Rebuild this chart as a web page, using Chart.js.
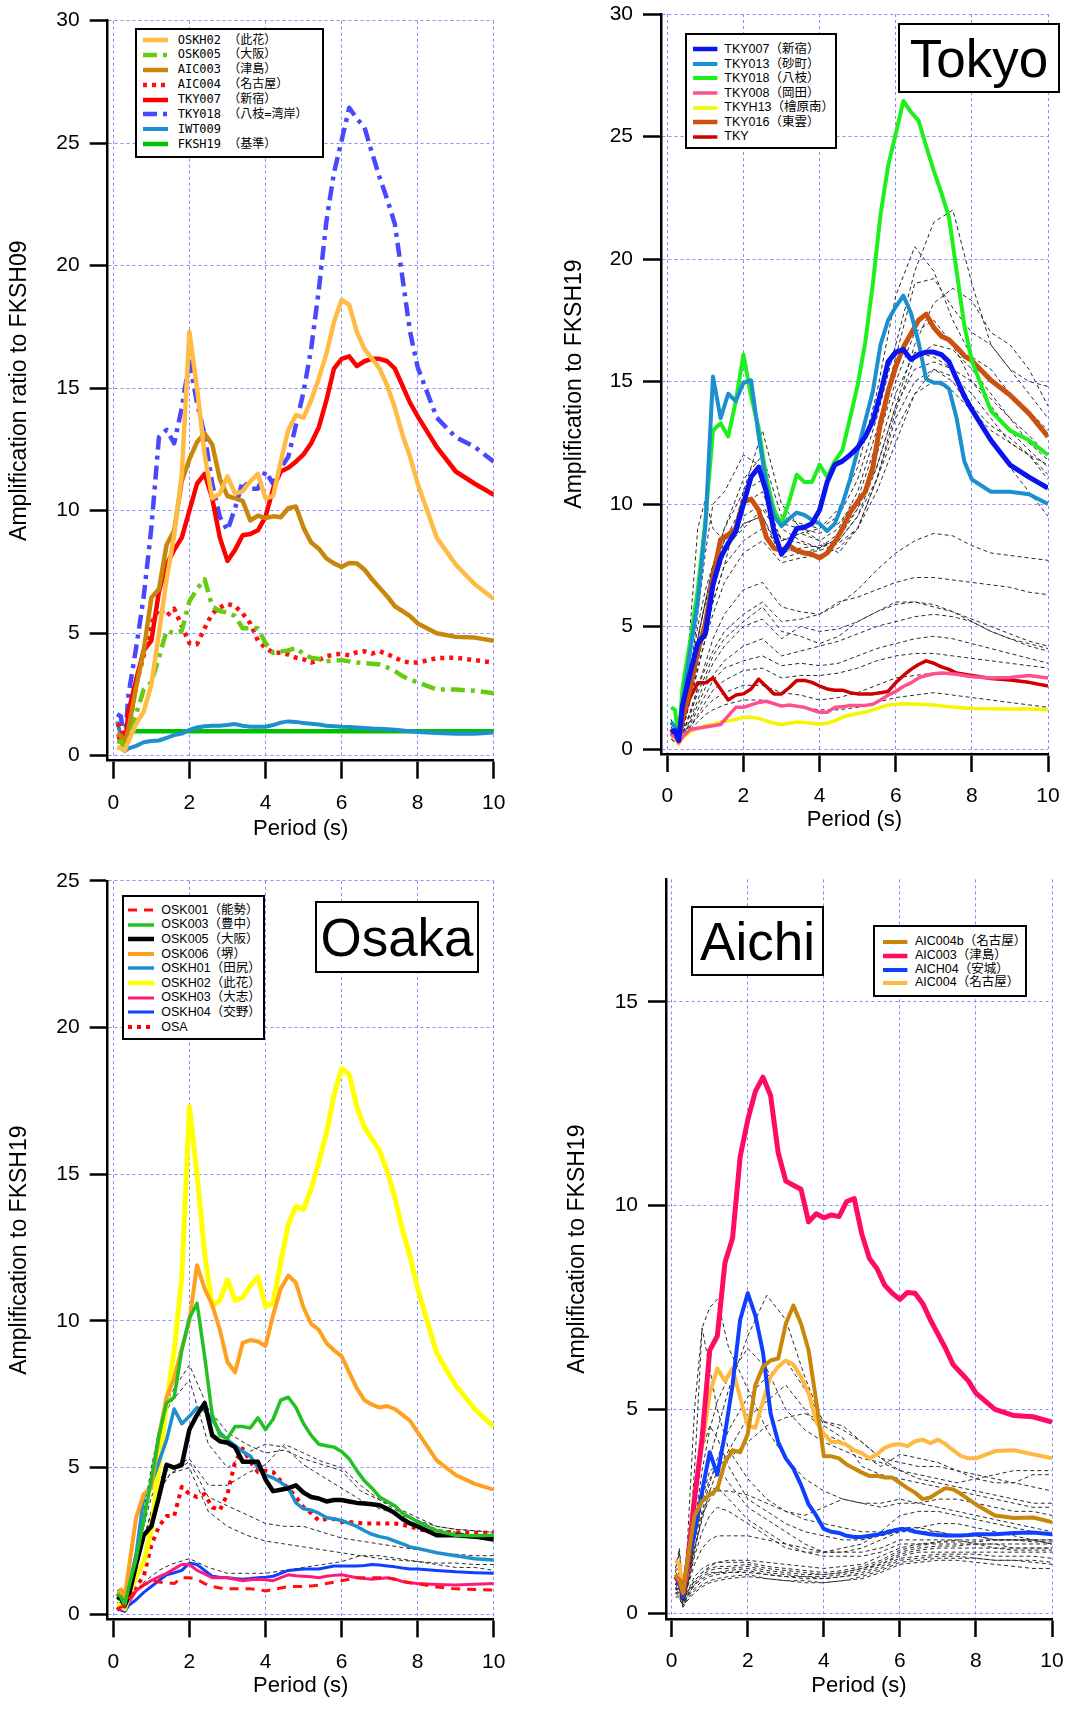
<!DOCTYPE html>
<html>
<head>
<meta charset="utf-8">
<script src="https://cdn.jsdelivr.net/npm/chart.js@4.4.1/dist/chart.umd.min.js"></script>
<style>
  body { margin: 0; background: #fff; width: 1065px; height: 1709px; position: relative; overflow: hidden; }
  canvas { position: absolute; }
  .legend { position: absolute; border: 2px solid #000; background: #fff; box-sizing: border-box; }
  .legend .row { position: absolute; white-space: nowrap; line-height: 1; }
  .legend svg { position: absolute; }
  .tag { position: absolute; border: 2px solid #000; background: #fff; box-sizing: border-box;
         font: 53px "Liberation Sans", Arial, sans-serif; display: flex; align-items: center; justify-content: center; }
</style>
</head>
<body>
<script>
// sampling periods (s)
const periods = [0.1, 0.2, 0.3, 0.4, 0.6, 0.8, 1.0, 1.2, 1.4, 1.6, 1.8, 2.0, 2.2, 2.4, 2.6, 2.8, 3.0, 3.2, 3.4, 3.6,
  3.8, 4.0, 4.2, 4.4, 4.6, 4.8, 5.0, 5.2, 5.4, 5.6, 5.8, 6.0, 6.2, 6.4, 6.6, 6.8, 7.0, 7.2, 7.4, 7.6,
  7.8, 8.0, 8.5, 9.0, 9.5, 10.0];
const periodsCoarse = [0.1, 0.2, 0.3, 0.4, 0.6, 0.8, 1.0, 1.2, 1.5, 2.0, 2.5, 3.0, 3.5, 4.0, 4.5, 5.0, 5.5, 6.0, 6.5, 7.0,
  7.5, 8.0, 8.5, 9.0, 9.5, 10.0];
const xTickValues = [0, 2, 4, 6, 8, 10];

// stations
const oskh02 = [0.35, 0.3, 0.2, 0.6, 1.3, 1.8, 2.9, 5.0, 7.2, 9.0, 11.5, 17.3, 15.0, 12.3, 10.5, 10.7, 11.4, 10.7, 10.8, 11.2,
  11.5, 10.5, 10.6, 12.0, 13.3, 13.9, 13.8, 14.5, 15.4, 16.4, 17.7, 18.6, 18.4, 17.3, 16.6, 16.2, 15.8, 15.1, 14.2, 13.1,
  12.2, 11.1, 8.9, 7.8, 7.0, 6.4];
const osk005 = [0.6, 0.55, 0.3, 0.6, 1.7, 2.7, 3.0, 4.0, 5.1, 5.0, 5.1, 6.3, 6.8, 7.2, 6.1, 5.9, 5.85, 5.7, 5.2, 5.2,
  5.2, 4.6, 4.2, 4.25, 4.3, 4.4, 4.15, 4.0, 3.95, 3.85, 3.9, 3.9, 3.85, 3.8, 3.78, 3.75, 3.72, 3.6, 3.45, 3.25,
  3.1, 3.0, 2.7, 2.7, 2.65, 2.55];
const aic003 = [0.9, 0.8, 0.5, 1.1, 2.8, 4.3, 6.45, 6.8, 8.6, 9.2, 11.2, 12.1, 12.8, 13.15, 12.7, 11.3, 10.6, 10.5, 10.4, 9.6,
  9.8, 9.7, 9.77, 9.73, 10.1, 10.17, 9.3, 8.7, 8.45, 8.05, 7.85, 7.7, 7.87, 7.85, 7.6, 7.2, 6.85, 6.5, 6.1, 5.9,
  5.7, 5.4, 5.0, 4.85, 4.82, 4.69];
const aic004 = [1.3, 1.2, 0.55, 0.95, 2.9, 4.1, 5.4, 6.0, 5.7, 6.0, 5.3, 4.6, 4.55, 5.2, 5.8, 6.05, 6.2, 6.1, 5.8, 5.4,
  4.7, 4.4, 4.2, 4.2, 4.13, 4.0, 3.93, 3.8, 3.9, 4.06, 4.13, 4.15, 4.1, 4.22, 4.26, 4.17, 4.26, 4.15, 4.0, 3.86,
  3.8, 3.8, 3.98, 4.0, 3.9, 3.8];
const tky007 = [0.7, 0.75, 0.35, 1.8, 3.1, 4.3, 4.7, 6.7, 7.8, 8.4, 8.9, 10.0, 11.1, 11.5, 10.5, 8.9, 7.95, 8.4, 9.0, 9.05,
  9.2, 9.75, 10.9, 11.6, 11.75, 12.0, 12.3, 12.75, 13.4, 14.5, 15.8, 16.2, 16.3, 15.9, 16.1, 16.2, 16.2, 16.1, 15.8, 15.1,
  14.4, 13.85, 12.6, 11.6, 11.1, 10.65];
const tky018 = [1.7, 1.6, 0.45, 2.5, 4.4, 6.5, 9.3, 13.0, 13.3, 12.75, 14.2, 16.1, 14.4, 13.1, 11.1, 9.75, 9.2, 10.1, 11.2, 10.9,
  10.9, 11.6, 11.1, 11.75, 12.2, 13.5, 14.85, 16.6, 19.0, 21.8, 23.8, 25.1, 26.45, 26.0, 25.65, 24.6, 23.6, 22.7, 21.7, 19.5,
  17.3, 15.85, 13.8, 13.0, 12.6, 12.0];
const iwt009 = [1.4, 0.8, 0.18, 0.3, 0.4, 0.55, 0.6, 0.62, 0.73, 0.84, 0.9, 1.05, 1.15, 1.2, 1.22, 1.22, 1.25, 1.29, 1.22, 1.18,
  1.18, 1.18, 1.25, 1.35, 1.4, 1.38, 1.33, 1.3, 1.27, 1.22, 1.2, 1.18, 1.17, 1.15, 1.13, 1.11, 1.1, 1.08, 1.06, 1.03,
  1.0, 0.97, 0.93, 0.9, 0.9, 0.95];
const fkshPeriods = [0.55, 10.0];
const fksh19 = [1.0, 1.0];

const tky013 = [1.1, 0.9, 0.5, 1.8, 4.0, 6.0, 9.1, 15.2, 13.5, 14.5, 14.2, 14.95, 15.05, 12.8, 10.8, 9.5, 9.1, 9.4, 9.65, 9.55,
  9.35, 9.2, 8.9, 9.2, 10.0, 11.0, 12.2, 13.4, 14.6, 16.5, 17.5, 18.05, 18.5, 17.8, 16.6, 15.1, 14.95, 14.95, 14.7, 13.5,
  11.75, 11.0, 10.5, 10.5, 10.4, 10.0];
const tky016 = [0.8, 0.6, 0.35, 1.2, 2.45, 4.0, 5.1, 7.0, 8.55, 8.75, 9.0, 10.1, 10.2, 9.75, 8.65, 8.2, 8.1, 8.3, 8.1, 8.0,
  7.95, 7.8, 8.0, 8.45, 9.0, 9.65, 10.1, 10.5, 11.5, 13.3, 14.6, 15.6, 16.4, 16.95, 17.5, 17.75, 17.2, 16.85, 16.7, 16.4,
  16.05, 15.85, 15.05, 14.45, 13.7, 12.75];
const tky = [0.55, 0.7, 0.35, 1.2, 2.1, 2.7, 2.7, 2.9, 2.45, 2.0, 2.2, 2.25, 2.45, 2.85, 2.55, 2.25, 2.25, 2.5, 2.8, 2.8,
  2.72, 2.57, 2.45, 2.4, 2.4, 2.3, 2.25, 2.25, 2.25, 2.3, 2.35, 2.7, 3.0, 3.25, 3.45, 3.6, 3.5, 3.35, 3.25, 3.1,
  3.05, 3.0, 2.88, 2.82, 2.72, 2.57];
const tky008 = [0.6, 0.5, 0.25, 0.5, 0.8, 0.85, 0.9, 0.95, 1.0, 1.35, 1.7, 1.7, 1.8, 1.9, 1.95, 1.85, 1.75, 1.8, 1.75, 1.7,
  1.6, 1.5, 1.5, 1.7, 1.72, 1.78, 1.78, 1.78, 1.83, 2.0, 2.2, 2.35, 2.55, 2.7, 2.9, 3.0, 3.07, 3.1, 3.08, 3.05,
  3.0, 2.95, 2.9, 2.92, 3.0, 2.9];
const tkyh13 = [0.55, 0.45, 0.2, 0.45, 0.7, 0.85, 0.95, 1.0, 1.1, 1.15, 1.2, 1.3, 1.3, 1.25, 1.15, 1.05, 1.0, 1.05, 1.1, 1.08,
  1.05, 1.02, 1.05, 1.15, 1.3, 1.38, 1.45, 1.5, 1.6, 1.7, 1.8, 1.82, 1.85, 1.84, 1.83, 1.82, 1.8, 1.76, 1.72, 1.7,
  1.67, 1.65, 1.64, 1.63, 1.63, 1.6];

const osk001 = [0.2, 0.25, 0.3, 0.5, 0.85, 1.0, 1.15, 1.1, 1.08, 1.05, 1.25, 1.25, 1.2, 1.05, 0.95, 0.9, 0.87, 0.87, 0.87, 0.87,
  0.85, 0.8, 0.85, 0.9, 0.95, 0.95, 0.95, 0.97, 1.0, 1.05, 1.1, 1.15, 1.2, 1.25, 1.25, 1.25, 1.25, 1.25, 1.2, 1.12,
  1.08, 1.05, 0.93, 0.87, 0.85, 0.83];
const osk003 = [0.7, 0.6, 0.3, 0.9, 1.9, 3.2, 4.6, 6.1, 7.2, 7.4, 9.0, 10.1, 10.6, 8.8, 6.8, 6.1, 6.0, 6.4, 6.4, 6.35,
  6.7, 6.3, 6.65, 7.3, 7.4, 7.05, 6.5, 6.1, 5.8, 5.75, 5.7, 5.55, 5.3, 4.9, 4.55, 4.3, 4.0, 3.85, 3.7, 3.45,
  3.3, 3.15, 2.85, 2.7, 2.68, 2.7];
const osk006 = [0.6, 0.85, 0.6, 1.5, 3.3, 4.1, 4.3, 6.1, 7.4, 8.05, 9.07, 10.0, 11.9, 11.1, 10.55, 9.7, 8.6, 8.25, 9.25, 9.35,
  9.3, 9.15, 10.2, 11.1, 11.55, 11.3, 10.45, 9.9, 9.7, 9.25, 9.0, 8.8, 8.25, 7.7, 7.3, 7.15, 7.05, 7.1, 7.0, 6.8,
  6.6, 6.2, 5.25, 4.75, 4.45, 4.25];
const oskh01 = [0.6, 0.5, 0.25, 0.9, 2.05, 4.0, 4.45, 5.2, 5.95, 7.0, 6.5, 6.75, 7.05, 6.95, 6.65, 6.2, 5.95, 5.75, 5.55, 5.4,
  5.0, 4.75, 4.65, 4.5, 4.3, 3.8, 3.6, 3.55, 3.45, 3.3, 3.25, 3.2, 3.1, 3.0, 2.85, 2.73, 2.65, 2.6, 2.5, 2.4,
  2.3, 2.25, 2.1, 2.0, 1.9, 1.85];
const oskh03 = [0.2, 0.18, 0.15, 0.4, 0.8, 1.0, 1.15, 1.28, 1.4, 1.55, 1.7, 1.7, 1.5, 1.38, 1.25, 1.25, 1.25, 1.2, 1.15, 1.18,
  1.2, 1.18, 1.15, 1.25, 1.35, 1.32, 1.3, 1.28, 1.25, 1.3, 1.33, 1.35, 1.3, 1.25, 1.22, 1.2, 1.22, 1.25, 1.2, 1.12,
  1.08, 1.05, 1.02, 1.0, 1.03, 1.05];
const oskh04 = [0.2, 0.15, 0.1, 0.3, 0.5, 0.75, 0.95, 1.15, 1.35, 1.42, 1.5, 1.75, 1.7, 1.5, 1.3, 1.27, 1.25, 1.22, 1.2, 1.22,
  1.25, 1.27, 1.3, 1.4, 1.5, 1.52, 1.55, 1.55, 1.55, 1.6, 1.65, 1.65, 1.65, 1.65, 1.67, 1.7, 1.68, 1.65, 1.62, 1.58,
  1.55, 1.55, 1.5, 1.45, 1.42, 1.4];
const osa = [0.15, 0.25, 0.3, 0.5, 0.95, 1.3, 2.35, 3.0, 3.35, 3.35, 4.35, 4.1, 4.0, 4.1, 3.65, 3.55, 4.1, 5.2, 5.65, 5.2,
  4.85, 4.9, 4.85, 4.55, 4.3, 4.0, 3.65, 3.45, 3.2, 3.25, 3.25, 3.15, 3.15, 3.12, 3.1, 3.1, 3.1, 3.1, 3.1, 3.05,
  3.0, 2.9, 2.8, 2.8, 2.77, 2.8];

const aic004b = [0.95, 0.8, 0.5, 1.2, 2.4, 2.75, 2.9, 3.05, 3.7, 4.0, 3.95, 4.4, 5.6, 6.05, 6.2, 6.25, 7.1, 7.55, 7.1, 6.45,
  5.2, 3.85, 3.85, 3.8, 3.65, 3.55, 3.45, 3.37, 3.37, 3.33, 3.33, 3.2, 3.07, 2.96, 2.8, 2.84, 2.96, 3.07, 3.04, 2.93,
  2.8, 2.67, 2.4, 2.34, 2.35, 2.24];
const aich04 = [0.9, 0.7, 0.4, 1.2, 1.95, 3.0, 3.95, 3.4, 4.4, 5.6, 7.2, 7.85, 7.3, 6.4, 4.9, 4.2, 3.8, 3.55, 3.15, 2.67,
  2.4, 2.07, 2.0, 1.97, 1.9, 1.87, 1.87, 1.9, 1.93, 1.97, 2.02, 2.06, 2.06, 2.0, 1.97, 1.94, 1.92, 1.91, 1.91, 1.91,
  1.92, 1.94, 1.94, 1.97, 1.98, 1.94];

// other stations (thin dashed), on periodsCoarse
const tokyoOthers = [
  [1.2, 0.9, 0.5, 1.2, 3, 5, 6.5, 7.5, 8.5, 9.5, 10, 8.5, 8.8, 9, 9.5, 11, 13.5, 16.5, 19.5, 21.5, 22, 19, 16.5, 15.5, 14.5, 13.5],
  [1, 0.8, 0.4, 1, 2.8, 4.5, 6, 7.5, 9, 11, 12, 9.5, 9.2, 9, 9.8, 11.5, 14.5, 18.5, 20.5, 19.5, 17.5, 16, 15.5, 14.5, 13.8, 13],
  [0.9, 0.7, 0.4, 1, 2.5, 4, 5.5, 7, 8.5, 10, 10.5, 8.5, 8.8, 8.5, 9, 10.5, 13, 16, 19, 19.2, 18, 17, 16.5, 15.5, 15, 14.8],
  [0.8, 0.6, 0.3, 0.8, 2.2, 3.8, 5.2, 6.5, 8, 9.2, 9.5, 8, 8.2, 8.3, 8.5, 9.5, 11.5, 14, 16.5, 18.2, 18.8, 18.3, 17, 16.5, 15.5, 14],
  [0.8, 0.7, 0.4, 0.9, 2.5, 4.5, 6, 7, 8.2, 9, 9.8, 8.6, 8.4, 8.2, 8.6, 9.8, 12, 14.5, 16.2, 16, 15.5, 15, 14.3, 13.5, 12.8, 12],
  [1, 0.8, 0.5, 1, 2.6, 4.5, 6, 7.5, 9, 10.5, 11, 9.2, 9, 8.8, 9.2, 10.2, 12.5, 15, 17, 17.5, 16.5, 15, 14, 13, 12.2, 11.5],
  [0.9, 0.6, 0.4, 0.8, 2, 3.5, 5, 6, 7.5, 8.5, 9, 8.2, 8, 8.1, 8.4, 9, 11, 13.5, 15, 15.5, 15.2, 14.5, 13.5, 12.5, 12, 11],
  [1.1, 0.8, 0.5, 1.1, 3, 5.5, 8, 10, 10.5, 12, 11.5, 9, 8.5, 8.2, 8.8, 9.8, 11.5, 14, 15.5, 15.8, 15.5, 14, 13.2, 12.7, 12, 11.6],
  [0.7, 0.5, 0.3, 0.7, 2, 3.2, 4.5, 5.5, 6.8, 8, 8.5, 7.6, 7.8, 7.9, 8.2, 9, 10.5, 12.5, 14.5, 15.5, 15, 13.8, 12.5, 11.5, 10.5, 9.5],
  [0.6, 0.5, 0.3, 0.6, 1.5, 2.5, 3.5, 4.5, 5.5, 6.5, 6.8, 5.8, 5.6, 5.5, 5.9, 6.5, 7.3, 8, 8.5, 8.8, 8.7, 8.3, 8, 7.9, 7.8, 7.7],
  [0.6, 0.5, 0.3, 0.6, 1.5, 2.5, 3.3, 4, 4.8, 5.5, 6, 5.2, 5.3, 5.5, 6, 6.2, 6.5, 6.8, 7, 7, 6.9, 6.8, 6.7, 6.6, 6.4, 6.3],
  [0.5, 0.4, 0.3, 0.5, 1.2, 2, 2.8, 3.5, 4.2, 5, 5.3, 4.5, 5, 4.8, 4.9, 5.2, 5.6, 6, 6, 5.8, 5.6, 5.3, 5, 4.7, 4.4, 4.2],
  [0.5, 0.4, 0.2, 0.5, 1.1, 1.8, 2.5, 3, 3.6, 4.2, 4.5, 3.8, 4, 4.2, 4.4, 4.7, 5, 5.2, 5.4, 5.5, 5.4, 5.2, 4.8, 4.5, 4.2, 4],
  [0.5, 0.4, 0.2, 0.5, 1, 1.6, 2.2, 2.8, 3.3, 3.6, 3.8, 3.4, 3.5, 3.4, 3.5, 3.8, 4.1, 4.3, 4.5, 4.6, 4.5, 4.3, 4.1, 3.9, 3.7, 3.5],
  [0.4, 0.3, 0.2, 0.4, 0.9, 1.4, 1.9, 2.4, 2.8, 3.2, 3.3, 2.9, 3, 3, 3.1, 3.3, 3.6, 3.8, 3.9, 3.9, 3.8, 3.7, 3.6, 3.5, 3.4, 3.3],
  [0.5, 0.4, 0.2, 0.4, 0.9, 1.3, 1.7, 2, 2.3, 2.6, 2.6, 2.3, 2.2, 2, 2.1, 2.3, 2.6, 2.9, 3, 3.1, 3.1, 3, 2.9, 2.8, 2.7, 2.6],
  [0.4, 0.3, 0.2, 0.4, 0.8, 1.1, 1.4, 1.6, 1.8, 2, 2, 1.8, 1.7, 1.6, 1.6, 1.7, 1.9, 2.1, 2.2, 2.3, 2.2, 2.1, 2, 1.9, 1.8, 1.7],
  [1.2, 0.9, 0.5, 1.4, 5, 9, 10.2, 9, 8.5, 9.2, 9.5, 7.8, 8, 8.2, 8.5, 9.5, 11, 13, 14.5, 15, 14.6, 13.8, 13, 12.5, 12, 11.2],
  [0.7, 0.5, 0.3, 0.7, 2, 3.3, 4.5, 6, 7.5, 10.5, 13, 10, 9, 8.5, 8, 9, 11, 13.8, 16, 16.5, 16.3, 15.5, 14.5, 13.5, 12.5, 11.8],
  [0.6, 0.4, 0.3, 0.6, 1.4, 2.3, 3, 3.8, 4.5, 5.2, 5.8, 4.8, 4.6, 4.3, 4.6, 5.2, 5.6, 5.9, 6, 5.9, 5.6, 5.2, 4.8, 4.5, 4.3, 4.1]
];
const osakaOthers = [
  [0.8, 0.9, 0.5, 1, 2, 3, 4.5, 6, 7.5, 8.5, 7, 6.2, 5.8, 5.5, 5.6, 5.3, 5.1, 4.9, 4.2, 3.9, 3.6, 3.3, 3.0, 2.9, 2.85, 2.8],
  [0.7, 0.8, 0.4, 0.9, 2.2, 3.5, 5, 6.3, 7.2, 8, 5.8, 5.0, 5.5, 5.8, 5.7, 5.1, 4.7, 4.3, 3.9, 3.6, 3.4, 3.2, 3, 2.9, 2.85, 2.8],
  [0.6, 0.6, 0.3, 0.8, 1.8, 3.0, 4, 4.6, 5, 5.3, 4.4, 4.4, 4.8, 5.1, 5.8, 5.5, 5.2, 5, 4.4, 3.9, 3.5, 3.2, 2.9, 2.8, 2.7, 2.7],
  [0.6, 0.5, 0.3, 0.7, 1.6, 2.6, 3.5, 4.2, 4.8, 5.0, 3.5, 3.0, 2.7, 2.5, 2.4, 2.3, 2.2, 2.1, 2.0, 1.9, 1.85, 1.8, 1.75, 1.75, 1.7, 1.7],
  [0.5, 0.5, 0.3, 0.7, 1.5, 2.5, 3.5, 4.2, 4.8, 5.2, 4.0, 3.7, 3.4, 3.1, 3.0, 3.0, 2.8, 2.6, 2.5, 2.4, 2.3, 2.2, 2.1, 2.05, 2.0, 2.0],
  [0.4, 0.4, 0.2, 0.4, 0.8, 1.1, 1.3, 1.5, 1.7, 1.9, 1.6, 1.4, 1.4, 1.4, 1.5, 1.6, 1.7, 1.8, 2.0, 2.0, 1.9, 1.8, 1.7, 1.6, 1.6, 1.5]
];
const aichiOthers = [
  [1.0, 1.5, 0.5, 1.0, 3.5, 7, 7.5, 7.7, 6.5, 5.5, 4.5, 3.8, 3.3, 3.0, 2.8, 2.7, 2.7, 2.8, 2.7, 2.6, 2.5, 2.4, 2.3, 2.2, 2.1, 2.0],
  [0.9, 1.2, 0.4, 0.8, 2, 3, 3.8, 4.5, 5.5, 6.8, 7.8, 7.2, 5.8, 4.6, 4.3, 3.6, 3.4, 3.3, 3.2, 3.1, 3.0, 2.9, 2.8, 2.7, 2.6, 2.6],
  [0.8, 1.0, 0.4, 0.8, 2.2, 3.5, 4.5, 5.2, 5.8, 6.5, 6.0, 5.0, 4.5, 4.2, 4.0, 3.8, 3.7, 3.5, 3.3, 3.2, 3.1, 3.0, 2.9, 2.8, 2.7, 2.7],
  [0.8, 1.0, 0.3, 0.7, 1.8, 2.5, 3.2, 3.8, 4.5, 5.3, 5.8, 6.2, 5.5, 4.7, 4.6, 4.2, 3.8, 3.7, 3.6, 3.6, 3.5, 3.4, 3.3, 3.2, 3.4, 3.4],
  [0.7, 0.9, 0.3, 0.7, 1.6, 2.3, 3.0, 3.5, 4.0, 4.8, 5.2, 5.6, 5.0, 4.4, 4.2, 3.9, 3.6, 3.9, 3.8, 3.7, 3.5, 3.3, 3.2, 3.2, 3.1, 3.0],
  [1.1, 1.6, 0.6, 1.5, 5, 7, 6, 5, 4, 3.3, 2.8, 2.5, 2.3, 2.2, 2.1, 2.0, 2.0, 2.1, 2.1, 2.0, 1.9, 1.9, 1.8, 1.8, 1.8, 1.7],
  [0.8, 1.0, 0.4, 0.9, 2.5, 4.0, 4.6, 4.3, 3.6, 2.8, 2.5, 2.2, 2.0, 1.9, 1.8, 1.8, 1.9, 2.0, 2.0, 2.0, 1.9, 1.9, 1.8, 1.8, 1.8, 1.7],
  [0.7, 0.9, 0.3, 0.7, 1.8, 2.8, 3.5, 3.6, 3.2, 2.6, 2.3, 2.0, 1.7, 1.5, 1.5, 1.5, 1.6, 1.8, 1.8, 1.8, 1.8, 1.7, 1.7, 1.6, 1.6, 1.6],
  [0.6, 0.8, 0.3, 0.6, 1.5, 2.4, 3.0, 3.1, 2.8, 2.3, 2.0, 1.7, 1.5, 1.4, 1.4, 1.4, 1.5, 1.7, 1.7, 1.7, 1.7, 1.7, 1.6, 1.6, 1.6, 1.6],
  [0.7, 0.9, 0.3, 0.6, 1.4, 2.0, 2.4, 2.6, 2.5, 2.2, 1.9, 1.6, 1.5, 1.5, 1.5, 1.6, 1.8, 2.0, 2.1, 2.2, 2.2, 2.1, 2.0, 1.9, 1.8, 1.8],
  [0.6, 0.5, 0.2, 0.4, 0.7, 0.9, 1.0, 1.0, 1.05, 1.1, 1.0, 0.95, 0.9, 0.9, 0.95, 1.05, 1.2, 1.4, 1.5, 1.5, 1.5, 1.5, 1.5, 1.5, 1.5, 1.5],
  [0.5, 0.5, 0.2, 0.4, 0.6, 0.8, 0.9, 0.95, 1.0, 1.05, 0.95, 0.9, 0.85, 0.85, 0.9, 1.0, 1.15, 1.35, 1.4, 1.45, 1.45, 1.45, 1.4, 1.4, 1.4, 1.35],
  [0.6, 0.6, 0.3, 0.5, 0.8, 1.0, 1.1, 1.15, 1.15, 1.2, 1.1, 1.05, 1.0, 0.95, 1.0, 1.1, 1.25, 1.5, 1.6, 1.65, 1.65, 1.7, 1.7, 1.7, 1.7, 1.7],
  [0.5, 0.4, 0.15, 0.35, 0.55, 0.7, 0.8, 0.85, 0.9, 0.95, 0.85, 0.8, 0.8, 0.75, 0.8, 0.9, 1.05, 1.25, 1.3, 1.35, 1.35, 1.35, 1.3, 1.3, 1.25, 1.2],
  [0.7, 0.7, 0.3, 0.5, 0.9, 1.1, 1.2, 1.25, 1.25, 1.25, 1.15, 1.1, 1.05, 1.0, 1.05, 1.15, 1.3, 1.55, 1.65, 1.75, 1.8, 1.8, 1.8, 1.8, 1.8, 1.8],
  [0.5, 0.5, 0.2, 0.4, 0.7, 0.85, 0.95, 1.0, 1.0, 1.0, 0.95, 0.9, 0.9, 0.85, 0.9, 0.95, 1.1, 1.3, 1.35, 1.4, 1.4, 1.35, 1.3, 1.3, 1.3, 1.25],
  [0.6, 0.6, 0.25, 0.45, 0.75, 0.95, 1.05, 1.1, 1.1, 1.15, 1.05, 1.0, 0.95, 0.95, 1.0, 1.1, 1.2, 1.45, 1.55, 1.6, 1.6, 1.6, 1.6, 1.55, 1.55, 1.55],
  [0.4, 0.4, 0.15, 0.3, 0.5, 0.65, 0.75, 0.8, 0.85, 0.9, 0.85, 0.8, 0.75, 0.75, 0.8, 0.85, 1.0, 1.2, 1.25, 1.3, 1.3, 1.25, 1.2, 1.15, 1.1, 1.1],
  [0.6, 0.6, 0.3, 0.5, 0.8, 1.0, 1.15, 1.25, 1.3, 1.3, 1.25, 1.2, 1.15, 1.1, 1.15, 1.2, 1.4, 1.6, 1.7, 1.75, 1.75, 1.75, 1.8, 1.8, 1.75, 1.75],
  [0.7, 0.8, 0.3, 0.6, 1.2, 1.6, 1.8, 1.9, 1.9, 1.9, 1.8, 1.7, 1.6, 1.5, 1.6, 1.7, 2.0, 2.4, 2.5, 2.5, 2.4, 2.3, 2.2, 2.1, 2.0, 1.9],
  [0.8, 0.9, 0.3, 0.7, 1.6, 2.4, 2.8, 3.0, 3.0, 2.9, 2.7, 2.5, 2.4, 2.6, 2.8, 2.7, 2.6, 2.7, 2.7, 2.8, 2.8, 2.7, 2.6, 2.5, 2.5, 2.4],
  [0.8, 0.9, 0.4, 0.8, 1.8, 2.7, 3.3, 3.6, 3.8, 4.2, 4.6, 4.8, 4.9, 4.7, 4.5, 4.2, 3.8, 3.5, 3.4, 3.3, 3.2, 3.3, 3.4, 3.5, 3.5, 3.5]
];

function points(xs, ys) {
  return ys.map((y, i) => ({ x: xs[i], y: y }));
}

function station(label, xs, ys, color, width, dash) {
  return {
    label: label, data: points(xs, ys), borderColor: color, backgroundColor: color,
    borderWidth: width, borderDash: dash || [], borderJoinStyle: 'round',
    pointRadius: 0, fill: false, tension: 0
  };
}

function others(list) {
  return list.map(ys => ({
    label: '', data: points(periodsCoarse, ys), borderColor: '#2a2a2a', borderWidth: 1,
    borderDash: [4, 3], pointRadius: 0, fill: false, tension: 0
  }));
}

const dashDot = [14, 6, 4, 6];
const dotted = [4, 5];

const panels = [
  {
    canvas: { x: 0, y: 0, w: 532, h: 860 },
    axisLeft: 107.7, x0: 113.3, x10: 493.8, yTop: 20.7, y0: 755.7, axisBottom: 760.7,
    yMax: 30, yTicks: [0, 5, 10, 15, 20, 25, 30], yTitle: 'Amplification ratio to FKSH09',
    yTitleX: 20, xTitleY: 828.5,
    datasets: [
      station('OSKH02 （此花）', periods, oskh02, '#ffbb44', 4.5),
      station('OSK005 （大阪）', periods, osk005, '#66cc11', 4.5, dashDot),
      station('AIC003 （津島）', periods, aic003, '#c8860a', 4.5),
      station('AIC004 （名古屋）', periods, aic004, '#ff1010', 4.5, dotted),
      station('TKY007 （新宿）', periods, tky007, '#ff0000', 4.5),
      station('TKY018 （八枝=湾岸）', periods, tky018, '#4848ff', 4.5, dashDot),
      station('IWT009', periods, iwt009, '#1e8fd0', 4),
      station('FKSH19 （基準）', fkshPeriods, fksh19, '#00c000', 4.5)
    ],
    legend: { x: 135, y: 28.3, w: 189, h: 129.4, row0: 40, step: 14.9, s0: 142.7, s1: 167.7, tx: 177.7,
              font: '12px "DejaVu Sans Mono", "Noto Sans CJK JP", monospace' }
  },
  {
    canvas: { x: 532, y: 0, w: 533, h: 860 },
    axisLeft: 661, x0: 667.3, x10: 1048, yTop: 14, y0: 749, axisBottom: 754,
    yMax: 30, yTicks: [0, 5, 10, 15, 20, 25, 30], yTitle: 'Amplification to FKSH19',
    yTitleX: 574.5, xTitleY: 819.8,
    datasets: [
      station('TKY007（新宿）', periods, tky007, '#0a14f0', 5),
      station('TKY013（砂町）', periods, tky013, '#1a90d0', 4),
      station('TKY018（八枝）', periods, tky018, '#1ef01e', 4),
      station('TKY008（岡田）', periods, tky008, '#ff4f8f', 3.5),
      station('TKYH13（檜原南）', periods, tkyh13, '#f5f500', 3.5),
      station('TKY016（東雲）', periods, tky016, '#cc5010', 5),
      station('TKY', periods, tky, '#cc0000', 3.5)
    ].concat(others(tokyoOthers)),
    legend: { x: 685, y: 33.3, w: 152.3, h: 115.7, row0: 49.3, step: 14.56, s0: 693.3, s1: 717.7, tx: 724.3,
              font: '12.5px "Liberation Sans", "Noto Sans CJK JP", sans-serif' },
    tag: { text: 'Tokyo', x: 898, y: 23, w: 162, h: 70 }
  },
  {
    canvas: { x: 0, y: 860, w: 532, h: 849 },
    axisLeft: 107.7, x0: 113.3, x10: 493.8, yTop: 880.8, y0: 1614.4, axisBottom: 1619.4,
    yMax: 25, yTicks: [0, 5, 10, 15, 20, 25], yTitle: 'Amplification to FKSH19',
    yTitleX: 20, xTitleY: 1686.4,
    datasets: [
      station('OSK001（能勢）', periods, osk001, '#ff1010', 3, [9, 7]),
      station('OSK003（豊中）', periods, osk003, '#22c022', 3.5),
      station('OSK005（大阪）', periods, osk005, '#000000', 4.5),
      station('OSK006（堺）', periods, osk006, '#ffa020', 4),
      station('OSKH01（田尻）', periods, oskh01, '#1e90d0', 3.5),
      station('OSKH02（此花）', periods, oskh02, '#ffff00', 5),
      station('OSKH03（大志）', periods, oskh03, '#ff1a7a', 3),
      station('OSKH04（交野）', periods, oskh04, '#1040ff', 3),
      station('OSA', periods, osa, '#ff0000', 4, dotted)
    ].concat(others(osakaOthers)),
    legend: { x: 122, y: 895, w: 142.7, h: 145, row0: 910, step: 14.6, s0: 128, s1: 154, tx: 161.3,
              font: '12.5px "Liberation Sans", "Noto Sans CJK JP", sans-serif' },
    tag: { text: 'Osaka', x: 315, y: 901, w: 164, h: 72 }
  },
  {
    canvas: { x: 532, y: 860, w: 533, h: 849 },
    axisLeft: 666, x0: 671.7, x10: 1052, yTop: 879.4, y0: 1613.3, axisBottom: 1619,
    yMax: 18, yTicks: [0, 5, 10, 15], yTitle: 'Amplification to FKSH19',
    yTitleX: 577.8, xTitleY: 1686.4,
    datasets: [
      station('AIC004b（名古屋）', periods, aic004b, '#c8860a', 4),
      station('AIC003（津島）', periods, aic003, '#ff0a64', 5),
      station('AICH04（安城）', periods, aich04, '#1040ff', 4),
      station('AIC004（名古屋）', periods, aic004, '#ffb840', 4)
    ].concat(others(aichiOthers)),
    legend: { x: 873.3, y: 925, w: 153.4, h: 71.7, row0: 941.7, step: 13.9, s0: 883.3, s1: 907.7, tx: 915,
              font: '12.5px "Liberation Sans", "Noto Sans CJK JP", sans-serif' },
    tag: { text: 'Aichi', x: 691, y: 906, w: 133, h: 70 }
  }
];

const TICK_FONT = { family: '"Liberation Sans", Arial, sans-serif', size: 21 };
const TITLE_SIZE_Y = 23;
const TITLE_SIZE_X = 22;

function buildLegend(chart, lg) {
  const box = document.createElement('div');
  box.className = 'legend';
  Object.assign(box.style, { left: lg.x + 'px', top: lg.y + 'px', width: lg.w + 'px', height: lg.h + 'px' });
  const items = chart.data.datasets.filter(d => d.label);
  items.forEach((d, i) => {
    const cy = lg.row0 + i * lg.step - lg.y - 2;
    const len = lg.s1 - lg.s0;
    const svg = document.createElementNS('http://www.w3.org/2000/svg', 'svg');
    svg.setAttribute('width', len);
    svg.setAttribute('height', 10);
    svg.style.left = (lg.s0 - lg.x - 2) + 'px';
    svg.style.top = (cy - 5) + 'px';
    const ln = document.createElementNS('http://www.w3.org/2000/svg', 'line');
    ln.setAttribute('x1', 0); ln.setAttribute('x2', len);
    ln.setAttribute('y1', 5); ln.setAttribute('y2', 5);
    ln.setAttribute('stroke', d.borderColor);
    ln.setAttribute('stroke-width', Math.min(d.borderWidth, 4.5));
    if (d.borderDash.length) ln.setAttribute('stroke-dasharray', d.borderDash.join(' '));
    svg.appendChild(ln);
    box.appendChild(svg);
    const row = document.createElement('div');
    row.className = 'row';
    row.textContent = d.label;
    row.style.font = lg.font;
    row.style.left = (lg.tx - lg.x - 2) + 'px';
    row.style.top = (cy - lg.step / 2) + 'px';
    row.style.height = lg.step + 'px';
    row.style.lineHeight = lg.step + 'px';
    box.appendChild(row);
  });
  document.body.appendChild(box);
}

// keep the plot box where it is: tick labels must not push the chart area around
function noLabelPadding(s) {
  s.paddingLeft = 0; s.paddingRight = 0; s.paddingTop = 0; s.paddingBottom = 0;
}

function makePanel(p) {
  const c = document.createElement('canvas');
  c.width = p.canvas.w;
  c.height = p.canvas.h;
  c.style.left = p.canvas.x + 'px';
  c.style.top = p.canvas.y + 'px';
  c.style.width = p.canvas.w + 'px';
  c.style.height = p.canvas.h + 'px';
  document.body.appendChild(c);

  const L = p.axisLeft - p.canvas.x, X0 = p.x0 - p.canvas.x, X10 = p.x10 - p.canvas.x;
  const T = p.yTop - p.canvas.y, Y0 = p.y0 - p.canvas.y, B = p.axisBottom - p.canvas.y;
  const pxX = (X10 - X0) / 10;
  const pxY = (Y0 - T) / p.yMax;
  const yLine = TITLE_SIZE_Y * 1.2, xLine = TITLE_SIZE_X * 1.2;

  const grid = {
    color: '#8a8aff', lineWidth: 1, drawTicks: true, tickLength: 18,
    tickColor: '#000', tickWidth: 2.5, tickBorderDash: []
  };
  const border = { display: true, color: '#000', width: 2.5, dash: [3, 3] };

  const chart = new Chart(c, {
    type: 'line',
    data: { datasets: p.datasets },
    options: {
      responsive: false,
      animation: false,
      devicePixelRatio: 1,
      layout: { padding: { left: 0, top: T, right: p.canvas.w - X10, bottom: 0 } },
      plugins: { legend: { display: false }, tooltip: { enabled: false } },
      scales: {
        x: {
          type: 'linear', min: -(X0 - L) / pxX, max: 10,
          afterFit: s => { s.height = p.canvas.h - B; noLabelPadding(s); },
          afterBuildTicks: s => { s.ticks = xTickValues.map(v => ({ value: v })); },
          grid: grid, border: border,
          ticks: { font: TICK_FONT, color: '#000', padding: 12, maxRotation: 0, autoSkip: false },
          title: {
            display: true, text: 'Period (s)', color: '#000',
            font: { family: '"Liberation Sans", Arial, sans-serif', size: TITLE_SIZE_X },
            padding: { top: 0, bottom: p.canvas.h - (p.xTitleY - p.canvas.y) - xLine / 2 }
          }
        },
        y: {
          type: 'linear', min: -(B - Y0) / pxY, max: p.yMax,
          afterFit: s => { s.width = L; noLabelPadding(s); },
          afterBuildTicks: s => { s.ticks = p.yTicks.map(v => ({ value: v })); },
          grid: grid, border: border,
          ticks: { font: TICK_FONT, color: '#000', padding: 10 },
          title: {
            display: true, text: p.yTitle, color: '#000',
            font: { family: '"Liberation Sans", Arial, sans-serif', size: TITLE_SIZE_Y },
            padding: { top: (p.yTitleX - p.canvas.x) - yLine / 2, bottom: 0 }
          }
        }
      }
    }
  });

  buildLegend(chart, p.legend);

  if (p.tag) {
    const t = document.createElement('div');
    t.className = 'tag';
    t.textContent = p.tag.text;
    Object.assign(t.style, { left: p.tag.x + 'px', top: p.tag.y + 'px', width: p.tag.w + 'px', height: p.tag.h + 'px' });
    document.body.appendChild(t);
  }
}

panels.forEach(makePanel);
</script>
</body>
</html>
